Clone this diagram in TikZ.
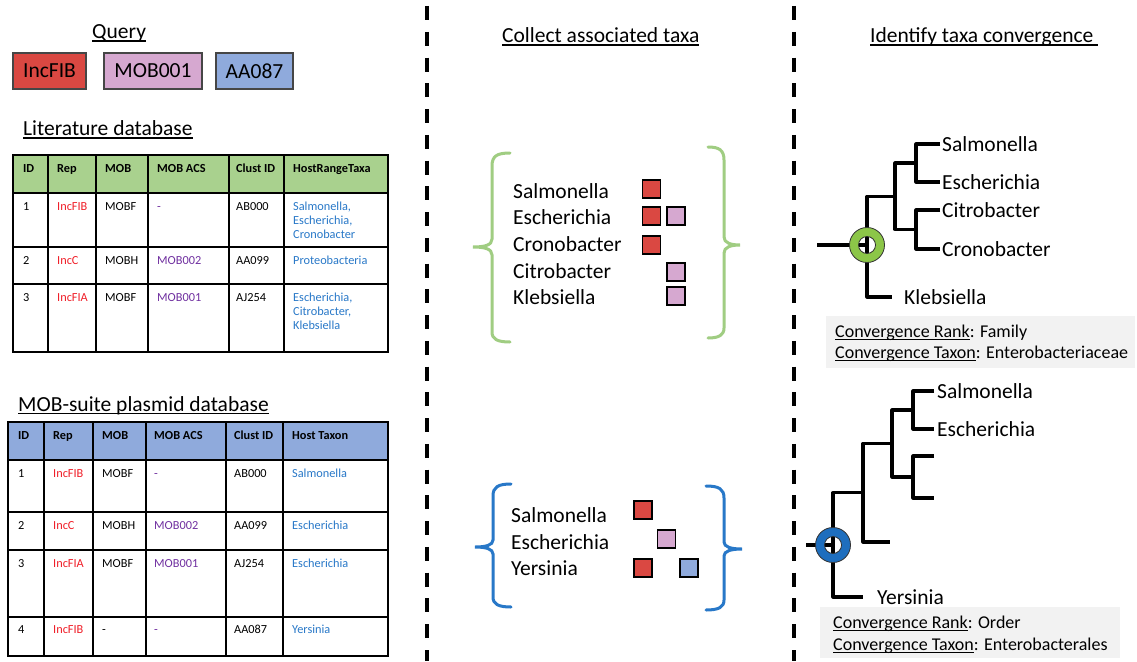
\documentclass[tikz,border=0pt]{standalone}
\usepackage{fontspec}
\setmainfont{Carlito}
\definecolor{qred}{RGB}{218,72,66}
\definecolor{qpink}{RGB}{214,168,208}
\definecolor{qblue}{RGB}{143,170,220}
\definecolor{hgreen}{RGB}{169,209,142}
\definecolor{hblue}{RGB}{143,170,220}
\definecolor{trep}{RGB}{240,30,40}
\definecolor{tacs}{RGB}{112,48,160}
\definecolor{thost}{RGB}{40,120,200}
\definecolor{brgreen}{RGB}{160,205,130}
\definecolor{brblue}{RGB}{40,120,200}
\definecolor{ringgreen}{RGB}{140,198,72}
\definecolor{ringblue}{RGB}{30,110,190}
\definecolor{boxgray}{RGB}{242,242,242}
\definecolor{qedge}{RGB}{70,70,70}
\newcommand\myul[1]{\setbox0=\hbox{#1}\rlap{\rule[-3.2pt]{\wd0}{1.6pt}}\box0}
\newcommand\myulb[1]{\setbox0=\hbox{#1}\rlap{\rule[-2.8pt]{\wd0}{1.2pt}}\box0}
\newcommand\tabtxt[4]{\node[cellt,#3] (#1) at #2 {#4};}
\tikzset{
  head/.style={font=\fontsize{21.5}{26}\selectfont, inner sep=0pt, anchor=base west},
  qbox/.style={draw=qedge, line width=1.2pt, minimum height=36pt, inner sep=0pt, font=\fontsize{21.5}{26}\selectfont},
  tline/.style={line width=1.8pt, black},
  cellt/.style={font=\fontsize{12.3}{14}\selectfont, inner sep=0pt, anchor=base west},
  hd/.style={font=\fontsize{12.3}{14}\selectfont\bfseries},
  rep/.style={text=trep},
  acs/.style={text=tacs},
  host/.style={text=thost},
  sep/.style={line width=3.5pt, dash pattern=on 14pt off 11.76pt},
  lst/.style={font=\fontsize{21.5}{26}\selectfont, inner sep=0pt, anchor=base west},
  sq/.style={draw=black, line width=1.2pt, minimum size=18pt, inner sep=0pt},
  brace/.style={line width=3pt, line cap=round},
  tree/.style={line width=3.1pt, black, line join=round},
  leaf/.style={font=\fontsize{21.5}{26}\selectfont, anchor=west, inner ysep=0pt, inner xsep=2pt},
  ring/.style={draw={rgb,255:red,50;green,50;blue,50}, line width=0.8pt, even odd rule},
  cv/.style={font=\fontsize{18}{22}\selectfont, inner sep=0pt, anchor=base west},
}
\begin{document}
\begin{tikzpicture}[x=1pt,y=-1pt]
\useasboundingbox[fill=white] (0,0) rectangle (1137,661);

% separators
\draw[sep] (427,6) -- (427,661);
\draw[sep] (794,6) -- (794,661);

% headings
\node[head] (hq) at (92,38.5) {\myul{Query}};
\node[head] (hl) at (23,135.5) {\myul{Literature database}};
\node[head] (hm) at (18,411) {\myul{MOB-suite plasmid database}};
\node[head] (hc) at (502,42.5) {\myul{Collect associated taxa}};
\node[head] (hi) at (870,42.5) {\myul{Identify taxa convergence\ }};

% query boxes
\node[qbox, fill=qred, minimum width=73pt] (q1) at (49.5,71) {IncFIB};
\node[qbox, fill=qpink, minimum width=98pt] (q2) at (153,71) {MOB001};
\node[qbox, fill=qblue, minimum width=77pt] (q3) at (254.5,71) {AA087};

% literature table
\fill[hgreen] (13,155) rectangle (388,193);
\foreach \x in {48,96,148,229,284} \draw[tline] (\x,155) -- (\x,352);
\foreach \y in {193,247,284} \draw[tline] (13,\y) -- (388,\y);
\draw[tline] (13,155) rectangle (388,352);
\tabtxt{lh1}{(23,172)}{hd}{ID}
\tabtxt{lh2}{(57,172)}{hd}{Rep}
\tabtxt{lh3}{(105,172)}{hd}{MOB}
\tabtxt{lh4}{(157,172)}{hd}{MOB ACS}
\tabtxt{lh5}{(236,172)}{hd}{Clust ID}
\tabtxt{lh6}{(293,172)}{hd}{HostRangeTaxa}
\tabtxt{l11}{(23,210)}{}{1}
\tabtxt{l12}{(57,210)}{rep}{IncFIB}
\tabtxt{l13}{(105,210)}{}{MOBF}
\tabtxt{l14}{(157,210)}{acs}{-}
\tabtxt{l15}{(236,210)}{}{AB000}
\tabtxt{l16a}{(293,210)}{host}{Salmonella,}
\tabtxt{l16b}{(293,224.4)}{host}{Escherichia,}
\tabtxt{l16c}{(293,238.8)}{host}{Cronobacter}
\tabtxt{l21}{(23,264)}{}{2}
\tabtxt{l22}{(57,264)}{rep}{IncC}
\tabtxt{l23}{(105,264)}{}{MOBH}
\tabtxt{l24}{(157,264)}{acs}{MOB002}
\tabtxt{l25}{(236,264)}{}{AA099}
\tabtxt{l26}{(293,264)}{host}{Proteobacteria}
\tabtxt{l31}{(23,301)}{}{3}
\tabtxt{l32}{(57,301)}{rep}{IncFIA}
\tabtxt{l33}{(105,301)}{}{MOBF}
\tabtxt{l34}{(157,301)}{acs}{MOB001}
\tabtxt{l35}{(236,301)}{}{AJ254}
\tabtxt{l36a}{(293,301)}{host}{Escherichia,}
\tabtxt{l36b}{(293,315.4)}{host}{Citrobacter,}
\tabtxt{l36c}{(293,329.8)}{host}{Klebsiella}

% MOB-suite table
\fill[hblue] (8,422) rectangle (388,460);
\foreach \x in {44,93,146,226,283} \draw[tline] (\x,422) -- (\x,656);
\foreach \y in {460,512,550,617} \draw[tline] (8,\y) -- (388,\y);
\draw[tline] (8,422) rectangle (388,656);
\tabtxt{mh1}{(18,439)}{hd}{ID}
\tabtxt{mh2}{(53,439)}{hd}{Rep}
\tabtxt{mh3}{(102,439)}{hd}{MOB}
\tabtxt{mh4}{(154,439)}{hd}{MOB ACS}
\tabtxt{mh5}{(234,439)}{hd}{Clust ID}
\tabtxt{mh6}{(292,439)}{hd}{Host Taxon}
\tabtxt{m11}{(18,477)}{}{1}
\tabtxt{m12}{(53,477)}{rep}{IncFIB}
\tabtxt{m13}{(102,477)}{}{MOBF}
\tabtxt{m14}{(154,477)}{acs}{-}
\tabtxt{m15}{(234,477)}{}{AB000}
\tabtxt{m16}{(292,477)}{host}{Salmonella}
\tabtxt{m21}{(18,529)}{}{2}
\tabtxt{m22}{(53,529)}{rep}{IncC}
\tabtxt{m23}{(102,529)}{}{MOBH}
\tabtxt{m24}{(154,529)}{acs}{MOB002}
\tabtxt{m25}{(234,529)}{}{AA099}
\tabtxt{m26}{(292,529)}{host}{Escherichia}
\tabtxt{m31}{(18,567)}{}{3}
\tabtxt{m32}{(53,567)}{rep}{IncFIA}
\tabtxt{m33}{(102,567)}{}{MOBF}
\tabtxt{m34}{(154,567)}{acs}{MOB001}
\tabtxt{m35}{(234,567)}{}{AJ254}
\tabtxt{m36}{(292,567)}{host}{Escherichia}
\tabtxt{m41}{(18,633)}{}{4}
\tabtxt{m42}{(53,633)}{rep}{IncFIB}
\tabtxt{m43}{(102,633)}{}{-}
\tabtxt{m44}{(154,633)}{acs}{-}
\tabtxt{m45}{(234,633)}{}{AA087}
\tabtxt{m46}{(292,633)}{host}{Yersinia}

% middle: green braces
\draw[brace, brgreen] (510,153) .. controls (497,153) and (492,156) .. (492,166) -- (492,239)
  .. controls (492,245) and (485,247) .. (473,247)
  .. controls (485,247) and (492,249) .. (492,255) -- (492,332)
  .. controls (492,339) and (497,342) .. (510,342);
\draw[brace, brgreen] (708,147) .. controls (719,147) and (724,150) .. (724,160) -- (724,237)
  .. controls (724,243) and (731,245) .. (740,245)
  .. controls (731,245) and (724,247) .. (724,253) -- (724,328)
  .. controls (724,335) and (719,338) .. (708,338);
\node[lst] (ms1) at (513,198) {Salmonella};
\node[lst] (ms2) at (513,224) {Escherichia};
\node[lst] (ms3) at (513,251) {Cronobacter};
\node[lst] (ms4) at (513,278) {Citrobacter};
\node[lst] (ms5) at (513,304) {Klebsiella};
\node[sq, fill=qred] (s1r) at (651.5,189) {};
\node[sq, fill=qred] (s2r) at (651.5,216) {};
\node[sq, fill=qpink] (s2p) at (676,216) {};
\node[sq, fill=qred] (s3r) at (651.5,245) {};
\node[sq, fill=qpink] (s4p) at (676,272) {};
\node[sq, fill=qpink] (s5p) at (676,296) {};

% middle: blue braces
\draw[brace, brblue] (511,484) .. controls (498,484) and (493,487) .. (493,496) -- (493,540)
  .. controls (493,545) and (486,547) .. (475,547)
  .. controls (486,547) and (493,549) .. (493,554) -- (493,597)
  .. controls (493,604) and (498,607) .. (511,607);
\draw[brace, brblue] (706,486) .. controls (719,486) and (724,489) .. (724,498) -- (724,542)
  .. controls (724,547) and (731,549) .. (742,549)
  .. controls (731,549) and (724,551) .. (724,556) -- (724,600)
  .. controls (724,607) and (719,610) .. (706,610);
\node[lst] (mb1) at (511,522) {Salmonella};
\node[lst] (mb2) at (511,549) {Escherichia};
\node[lst] (mb3) at (511,575) {Yersinia};
\node[sq, fill=qred] (b1r) at (643,510) {};
\node[sq, fill=qpink] (b2p) at (666.5,539) {};
\node[sq, fill=qred] (b3r) at (643,568) {};
\node[sq, fill=qblue] (b3b) at (689,568) {};

% tree 1
\node[leaf] (t1sal) at (940,144) {Salmonella};
\node[leaf] (t1esc) at (940,182) {Escherichia};
\node[leaf] (t1cit) at (940,210) {Citrobacter};
\node[leaf] (t1cro) at (940,249) {Cronobacter};
\node[leaf, inner xsep=12pt] (t1kle) at (892,297) {Klebsiella};
\coordinate (t1a) at (916,163);
\coordinate (t1b) at (916,229.5);
\coordinate (t1c) at (895,196.25);
\coordinate (t1r) at (867,245);
\coordinate (t1s) at (817,245);
\draw[tree] (t1sal.west) -| (t1a) |- (t1esc.west);
\draw[tree] (t1cit.west) -| (t1b) |- (t1cro.west);
\draw[tree] (t1a) -| (t1c) |- (t1b);
\draw[tree] (t1c) -| (t1r) |- (t1kle.west);
\draw[tree] (t1s) -- (t1r);
\path[ring, fill=ringgreen] (t1r) circle[radius=17.5pt] (t1r) circle[radius=8.5pt];

\fill[boxgray] (826,316) rectangle (1135,368);
\node[cv] (cr1) at (835,337) {\myulb{Convergence Rank}: Family};
\node[cv] (ct1) at (835,358) {\myulb{Convergence Taxon}: Enterobacteriaceae};

% tree 2
\node[leaf, inner xsep=3pt] (t2sal) at (934,391) {Salmonella};
\node[leaf, inner xsep=3pt] (t2esc) at (934,429) {Escherichia};
\node[leaf, inner xsep=14pt] (t2yer) at (863,597) {Yersinia};
\coordinate (t2e1) at (934,456);
\coordinate (t2e2) at (934,498);
\coordinate (t2e3) at (890,542);
\coordinate (t2a) at (913,410);
\coordinate (t2b) at (913,477);
\coordinate (t2c) at (892,443.5);
\coordinate (t2d) at (863,492.75);
\coordinate (t2r) at (833,545);
\coordinate (t2s) at (806,545);
\draw[tree] (t2sal.west) -| (t2a) |- (t2esc.west);
\draw[tree] (t2e1) -| (t2b) |- (t2e2);
\draw[tree] (t2a) -| (t2c) |- (t2b);
\draw[tree] (t2c) -| (t2d) |- (t2e3);
\draw[tree] (t2d) -| (t2r) |- (t2yer.west);
\draw[tree] (t2s) -- (t2r);
\path[ring, fill=ringblue] (t2r) circle[radius=17.5pt] (t2r) circle[radius=8.5pt];

\fill[boxgray] (820,607) rectangle (1120,658);
\node[cv] (cr2) at (833,628) {\myulb{Convergence Rank}: Order};
\node[cv] (ct2) at (833,650) {\myulb{Convergence Taxon}: Enterobacterales};
\end{tikzpicture}
\end{document}
